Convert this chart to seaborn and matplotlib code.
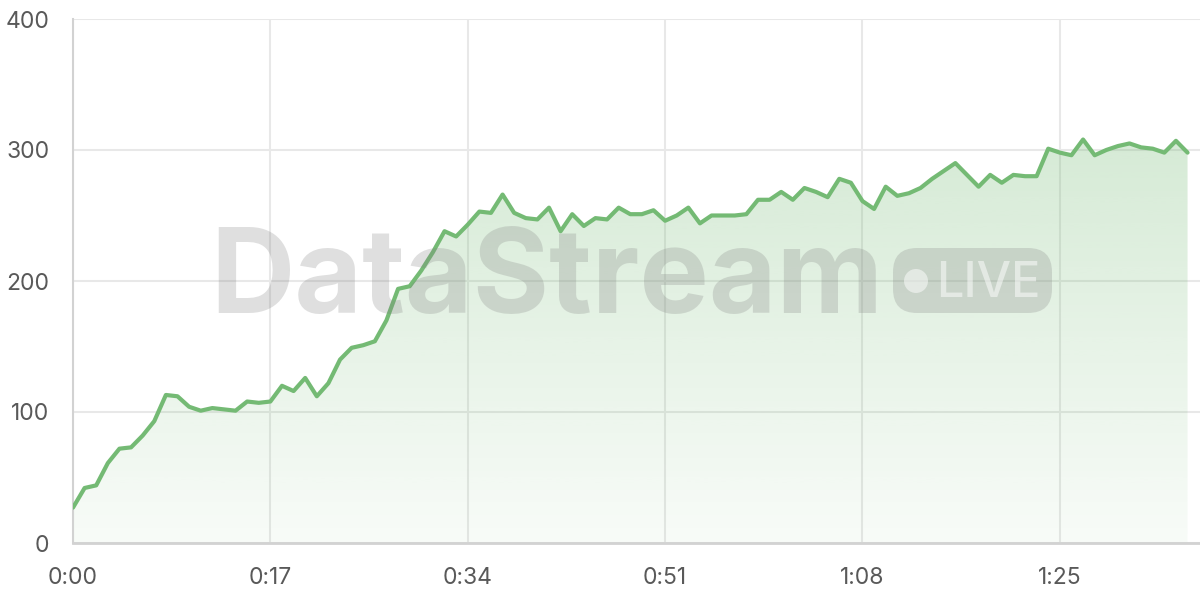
import numpy as np
import pandas as pd
import matplotlib
matplotlib.use("Agg")
import matplotlib.pyplot as plt
import seaborn as sns
from matplotlib.patches import FancyBboxPatch, Circle
from matplotlib.transforms import IdentityTransform

# viewers per second over the stream
seconds = list(range(97))
viewers = [27, 42, 44, 61, 72, 73, 82, 93, 113, 112,
           104, 101, 103, 102, 101, 108, 107, 108, 120, 116,
           126, 112, 122, 140, 149, 151, 154, 170, 194, 196,
           208, 222, 238, 234, 243, 253, 252, 266, 252, 248,
           247, 256, 238, 251, 242, 248, 247, 256, 251, 251,
           254, 246, 250, 256, 244, 250, 250, 250, 251, 262,
           262, 268, 262, 271, 268, 264, 278, 275, 261, 255,
           272, 265, 267, 271, 278, 284, 290, 281, 272, 281,
           275, 281, 280, 280, 301, 298, 296, 308, 296, 300,
           303, 305, 302, 301, 298, 307, 298]
x_ticks = [0, 17, 34, 51, 68, 85]
y_ticks = [0, 100, 200, 300, 400]

LINE = "#74ba74"
GRID = "#e8e8e8"
TEXT = "#595959"

sns.set_style("white")
plt.rcParams["font.family"] = ["Inter", "DejaVu Sans"]

df = pd.DataFrame({"t": seconds, "v": viewers})

fig = plt.figure(figsize=(12, 6), dpi=100)
ax = fig.add_axes([73 / 1200, 57 / 600, 1127 / 1200, 524 / 600])

# gradient fill under the curve
grad = np.zeros((256, 1, 4))
rgb = matplotlib.colors.to_rgb(LINE)
grad[:, 0, :3] = rgb
grad[:, 0, 3] = np.linspace(0.05, 0.30, 256)
im = ax.imshow(grad, extent=[0, max(seconds), 0, 310], origin="lower",
               aspect="auto", zorder=1, interpolation="bilinear")
poly = ax.fill_between(df["t"], df["v"], 0, facecolor="none", edgecolor="none")
im.set_clip_path(poly.get_paths()[0], ax.transData)

sns.lineplot(data=df, x="t", y="v", ax=ax, color=LINE, linewidth=3, zorder=4)

ax.set_xlim(0, 1127 / 11.61)
ax.set_ylim(0, 400)
ax.set_xticks(x_ticks)
ax.set_xticklabels([f"{s // 60}:{s % 60:02d}" for s in x_ticks])
ax.set_yticks(y_ticks)
ax.set_xlabel("")
ax.set_ylabel("")
ax.grid(True, color=GRID, linewidth=1.5, zorder=0)
ax.set_axisbelow(True)
ax.tick_params(axis="both", length=11, width=1.5, color=GRID,
               labelsize=16.5, labelcolor=TEXT, pad=6)
for s in ["top", "right"]:
    ax.spines[s].set_visible(False)
ax.spines["left"].set_color("#d2d2d2")
ax.spines["left"].set_linewidth(1.5)
ax.spines["bottom"].set_color("#d2d2d2")
ax.spines["bottom"].set_linewidth(2)

# watermark
fig.text(210 / 1200, 1 - 313 / 600, "DataStream", fontsize=84, fontweight="bold",
         color=(0.5, 0.5, 0.5), alpha=0.25, ha="left", va="baseline", zorder=3)
pill = FancyBboxPatch((893, 287), 159, 65, boxstyle="round,pad=0,rounding_size=24",
                      transform=IdentityTransform(), facecolor=(0.5, 0.5, 0.5),
                      alpha=0.25, edgecolor="none", zorder=3)
fig.patches.append(pill)
dot = Circle((916, 319), 12, transform=IdentityTransform(), facecolor="white",
             alpha=0.5, edgecolor="none", zorder=3)
fig.patches.append(dot)
fig.text(936 / 1200, 1 - 297 / 600, "LIVE", fontsize=35, fontweight="medium",
         color="white", alpha=0.5, ha="left", va="baseline", zorder=3)

fig.savefig("out.png", dpi=100)
